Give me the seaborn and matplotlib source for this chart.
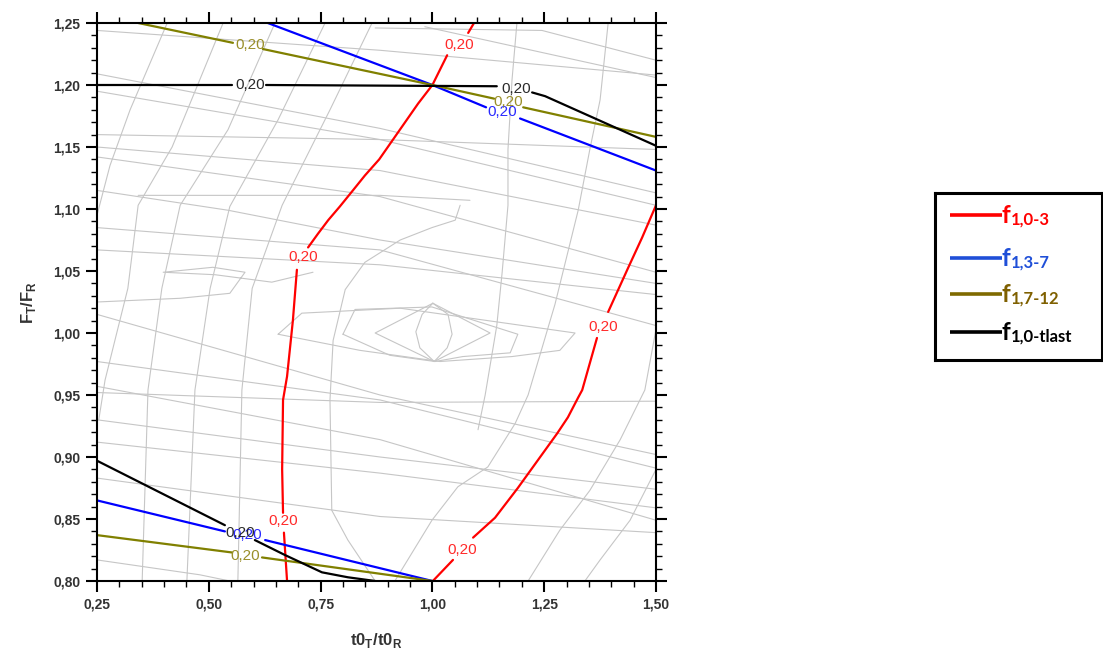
import numpy as np
import pandas as pd
import matplotlib
matplotlib.use("Agg")
import matplotlib.pyplot as plt
from matplotlib.ticker import MultipleLocator, FuncFormatter
import seaborn as sns

sns.set_style("ticks")
plt.rcParams["font.family"] = ["Liberation Sans", "DejaVu Sans"]

nan = np.nan
LEVEL = 0.20

# ---- level-0.20 contours (NaN = gap left for the level label) ----
red_left_x = [1.093, 1.080, nan, 1.033, 1.000, 0.968, 0.939, 0.910, 0.881, 0.849, 0.820,
              0.793, 0.767, 0.744, 0.722, nan,
              0.697, 0.688, 0.675, 0.666, 0.664, 0.666, nan, 0.668, 0.675]
red_left_y = [1.250, 1.242, nan, 1.224, 1.200, 1.185, 1.170, 1.155, 1.140, 1.127, 1.114,
              1.102, 1.091, 1.080, 1.069, nan,
              1.051, 1.010, 0.965, 0.946, 0.890, 0.855, nan, 0.839, 0.800]
red_right_x = [1.001, 1.046, nan, 1.091, 1.140, 1.191, 1.245, 1.279, 1.303, 1.326, 1.335,
               1.368, nan, 1.393, 1.437, 1.469, 1.500]
red_right_y = [0.800, 0.817, nan, 0.835, 0.851, 0.875, 0.902, 0.919, 0.932, 0.948, 0.954,
               0.996, nan, 1.017, 1.052, 1.077, 1.103]

blue_top_x = [0.632, 1.000, 1.120, nan, 1.196, 1.435, 1.500]
blue_top_y = [1.250, 1.200, 1.182, nan, 1.173, 1.140, 1.131]
blue_bot_x = [0.250, 0.536, nan, 0.626, 1.000]
blue_bot_y = [0.865, 0.840, nan, 0.833, 0.800]

olive_top_x = [0.342, 0.554, nan, 0.621, 1.000, 1.138, nan, 1.203, 1.502]
olive_top_y = [1.250, 1.234, nan, 1.229, 1.200, 1.189, nan, 1.182, 1.158]
olive_bot_x = [0.250, 0.552, nan, 0.619, 1.000]
olive_bot_y = [0.837, 0.823, nan, 0.819, 0.800]

black_top_x = [0.250, 0.552, nan, 0.628, 1.144, nan, 1.223, 1.252, 1.500]
black_top_y = [1.200, 1.200, nan, 1.200, 1.199, nan, 1.194, 1.191, 1.151]
black_bot_x = [0.250, 0.536, nan, 0.603, 0.670, 0.753, 0.811, 0.872]
black_bot_y = [0.897, 0.845, nan, 0.833, 0.821, 0.807, 0.803, 0.800]

# level label positions
red_lbl_x = [1.060, 0.711, 0.666, 1.066, 1.381]
red_lbl_y = [1.232, 1.061, 0.848, 0.825, 1.005]
blue_lbl_x = [1.156, 0.585]
blue_lbl_y = [1.178, 0.837]
olive_lbl_x = [0.592, 1.169, 0.581]
olive_lbl_y = [1.232, 1.186, 0.820]
black_lbl_x = [0.592, 1.187, 0.570]
black_lbl_y = [1.200, 1.197, 0.839]

# ---- other contour levels (light grey) ----
grey_arcs = [
    ([0.250, 0.279, 0.324, 0.407], [1.095, 1.135, 1.180, 1.250]),
    ([0.254, 0.268, 0.290, 0.319, 0.342, 0.418, 0.532], [0.930, 0.962, 0.994, 1.036, 1.103, 1.150, 1.250]),
    ([0.351, 0.364, 0.395, 0.436, 0.543, 0.648], [0.800, 0.954, 1.036, 1.103, 1.164, 1.250]),
    ([0.451, 0.469, 0.503, 0.547, 0.655, 0.760], [0.800, 0.954, 1.036, 1.102, 1.172, 1.250]),
    ([0.565, 0.574, 0.597, 0.664, 0.771, 0.865], [0.800, 0.954, 1.036, 1.103, 1.180, 1.250]),
    ([0.872, 0.811, 0.775, 0.771, 0.778, 0.805, 0.849, 0.928, 0.999, 1.051, 1.062],
     [0.800, 0.833, 0.857, 0.946, 0.994, 1.035, 1.057, 1.075, 1.085, 1.091, 1.103]),
    ([1.189, 1.178, 1.169, 1.169, 1.156, 1.144, 1.118, 1.102],
     [1.250, 1.204, 1.148, 1.103, 1.049, 1.006, 0.950, 0.922]),
    ([1.393, 1.375, 1.352, 1.326, 1.274, 1.214, 1.185, 1.124, 1.057, 0.999, 0.916],
     [1.250, 1.188, 1.148, 1.099, 1.023, 0.950, 0.927, 0.892, 0.876, 0.849, 0.800]),
    ([1.500, 1.475, 1.420, 1.352, 1.285, 1.214], [1.003, 0.954, 0.914, 0.873, 0.841, 0.800]),
    ([1.500, 1.442, 1.375, 1.341], [0.890, 0.849, 0.817, 0.800]),
]

grey_slopes = [
    ([0.250, 0.883, 1.500], [1.244, 1.228, 1.208]),
    ([0.250, 0.883, 1.500], [1.209, 1.165, 1.113]),
    ([0.250, 0.883, 1.500], [1.195, 1.156, 1.103]),
    ([0.250, 0.883, 1.500], [1.160, 1.156, 1.148]),
    ([0.250, 0.883, 1.500], [1.150, 1.131, 1.087]),
    ([0.250, 0.883, 1.500], [1.142, 1.110, 1.049]),
    ([0.250, 0.543, 0.883, 1.500], [1.115, 1.099, 1.075, 1.040]),
    ([0.342, 0.883, 1.084], [1.111, 1.111, 1.107]),
    ([0.250, 0.883, 1.500], [1.085, 1.067, 1.006]),
    ([0.250, 0.883, 1.500], [1.067, 1.055, 1.031]),
    ([0.250, 0.883, 1.500], [1.015, 0.950, 0.902]),
    ([0.250, 0.883, 1.500], [0.977, 0.946, 0.891]),
    ([0.250, 0.883, 1.500], [0.952, 0.944, 0.945]),
    ([0.250, 0.883, 1.500], [0.957, 0.914, 0.849]),
    ([0.250, 0.883, 1.500], [0.930, 0.900, 0.874]),
    ([0.250, 0.883, 1.500], [0.912, 0.887, 0.859]),
    ([0.250, 0.883, 1.500], [0.883, 0.852, 0.839]),
    ([0.250, 0.480, 0.547], [0.817, 0.805, 0.800]),
    ([0.872, 1.245, 1.500], [1.246, 1.244, 1.220]),
    ([0.983, 1.500], [1.247, 1.206]),
]

grey_loops = [
    ([1.001, 1.035, 1.044, 1.033, 1.004, 0.972, 0.963, 0.977, 1.001],
     [1.024, 1.015, 0.999, 0.988, 0.977, 0.988, 1.001, 1.015, 1.024]),
    ([1.001, 1.129, 1.004, 0.872, 1.001], [1.024, 1.000, 0.977, 1.000, 1.024]),
    ([0.800, 0.827, 0.999, 1.191, 1.174, 1.068, 1.006, 0.905, 0.800],
     [0.999, 1.019, 1.021, 0.999, 0.984, 0.981, 0.977, 0.982, 0.999]),
    ([0.655, 0.708, 0.928, 1.319, 1.285, 1.178, 1.017, 0.838, 0.655],
     [0.999, 1.016, 1.020, 1.000, 0.986, 0.981, 0.977, 0.986, 0.999]),
    ([0.250, 0.436, 0.547, 0.581, 0.509, 0.398, 0.514, 0.641, 0.733],
     [1.025, 1.028, 1.032, 1.049, 1.053, 1.049, 1.047, 1.041, 1.049]),
]

series_names = ["f_1,0-3", "f_1,3-7", "f_1,7-12", "f_1,0-tlast"]
line_colors = ["#ff0000", "#0000ff", "#808000", "#000000"]
label_colors = ["#ff2a2a", "#2a2aff", "#9a8f2a", "#2a2a2a"]


def segments(x, y):
    """Split a NaN-separated polyline into its drawn pieces."""
    x = np.asarray(x, float)
    y = np.asarray(y, float)
    cut = np.isnan(x)
    idx = np.cumsum(cut)
    return [(x[(idx == k) & ~cut], y[(idx == k) & ~cut]) for k in np.unique(idx)]


def frame(pieces, name, start=0):
    rows = []
    unit = start
    for px, py in pieces:
        for a, b in zip(px, py):
            rows.append((name, unit, a, b))
        unit += 1
    return rows, unit


rows, u = [], 0
for name, curves in zip(series_names, [
        [(red_left_x, red_left_y), (red_right_x, red_right_y)],
        [(blue_top_x, blue_top_y), (blue_bot_x, blue_bot_y)],
        [(olive_top_x, olive_top_y), (olive_bot_x, olive_bot_y)],
        [(black_top_x, black_top_y), (black_bot_x, black_bot_y)]]):
    for cx, cy in curves:
        r, u = frame(segments(cx, cy), name, u)
        rows += r
level_df = pd.DataFrame(rows, columns=["series", "unit", "x", "y"])

grey_rows, g = [], 0
for gx, gy in grey_arcs + grey_slopes + grey_loops:
    r, g = frame([(gx, gy)], "grey", g)
    grey_rows += r
grey_df = pd.DataFrame(grey_rows, columns=["series", "unit", "x", "y"])

fig = plt.figure(figsize=(11.03, 6.55), dpi=100)
ax = fig.add_axes([97 / 1103, 1 - 581 / 655, 559 / 1103, 558 / 655])

sns.lineplot(data=grey_df, x="x", y="y", units="unit", estimator=None, sort=False,
             color="#c6c6c6", lw=0.8, ax=ax, legend=False)
sns.lineplot(data=level_df, x="x", y="y", hue="series", units="unit", estimator=None,
             sort=False, palette=dict(zip(series_names, line_colors)),
             hue_order=series_names, lw=1.6, ax=ax, legend=False)

lbl_text = f"{LEVEL:.2f}".replace(".", ",")
for (lx, ly), col in zip([(red_lbl_x, red_lbl_y), (blue_lbl_x, blue_lbl_y),
                          (olive_lbl_x, olive_lbl_y), (black_lbl_x, black_lbl_y)], label_colors):
    for a, b in zip(lx, ly):
        ax.text(a, b, lbl_text, color=col, fontsize=11, ha="center", va="center",
                family="Liberation Sans")

ax.set_xlim(0.25, 1.50)
ax.set_ylim(0.80, 1.25)
ax.xaxis.set_major_locator(MultipleLocator(0.25))
ax.xaxis.set_minor_locator(MultipleLocator(0.05))
ax.yaxis.set_major_locator(MultipleLocator(0.05))
ax.yaxis.set_minor_locator(MultipleLocator(0.01))
comma = FuncFormatter(lambda v, p: f"{v:.2f}".replace(".", ","))
ax.xaxis.set_major_formatter(comma)
ax.yaxis.set_major_formatter(comma)
ax.tick_params(which="both", direction="out", top=True, right=True,
               labeltop=False, labelright=False, colors="black")
ax.tick_params(which="major", length=8, width=1.5, labelsize=10, pad=4, labelcolor="#333333")
ax.tick_params(which="minor", length=4, width=1.0)
for lab in ax.get_xticklabels() + ax.get_yticklabels():
    lab.set_fontweight("bold")
for sp in ax.spines.values():
    sp.set_visible(True)
    sp.set_linewidth(1.5)
    sp.set_color("black")

ax.set_xlabel(r"t0$_\mathregular{T}$/t0$_\mathregular{R}$", fontsize=12, fontweight="bold",
              color="#333333", va="center")
ax.set_ylabel(r"F$_\mathregular{T}$/F$_\mathregular{R}$", fontsize=12, fontweight="bold",
              color="#333333", va="center")
ax.xaxis.set_label_coords(0.499, -0.106)
ax.yaxis.set_label_coords(-0.123, 0.5)

# ---- legend box ----
lax = fig.add_axes([935 / 1103, 1 - 360 / 655, 167 / 1103, 167 / 655])
lax.set_xlim(0, 167)
lax.set_ylim(167, 0)
lax.set_xticks([])
lax.set_yticks([])
for sp in lax.spines.values():
    sp.set_linewidth(2.2)
    sp.set_color("black")

leg_subs = ["1,0-3", "1,3-7", "1,7-12", "1,0-tlast"]
leg_line_colors = ["#ff0000", "#1f4fd8", "#7f6a00", "#000000"]
leg_text_colors = ["#ff0000", "#1f4fd8", "#7f6000", "#000000"]
leg_rows = [22, 65, 101, 139]

mains = []
for sub, lc, tc, yy in zip(leg_subs, leg_line_colors, leg_text_colors, leg_rows):
    lax.plot([15, 67], [yy, yy], color=lc, lw=2.6, solid_capstyle="butt")
    t = lax.text(67, yy + 8, "f", color=tc, fontsize=17.5, fontweight="bold",
                 family="Lato", va="baseline", ha="left")
    mains.append(t)

fig.canvas.draw()
inv = lax.transData.inverted()
for t, sub, tc, yy in zip(mains, leg_subs, leg_text_colors, leg_rows):
    bb = t.get_window_extent()
    x_right = inv.transform((bb.x1, bb.y0))[0]
    lax.text(x_right + 0.5, yy + 10, sub, color=tc, fontsize=12, fontweight="bold",
             family="Lato", va="baseline", ha="left")

fig.savefig("out.png", dpi=100)
